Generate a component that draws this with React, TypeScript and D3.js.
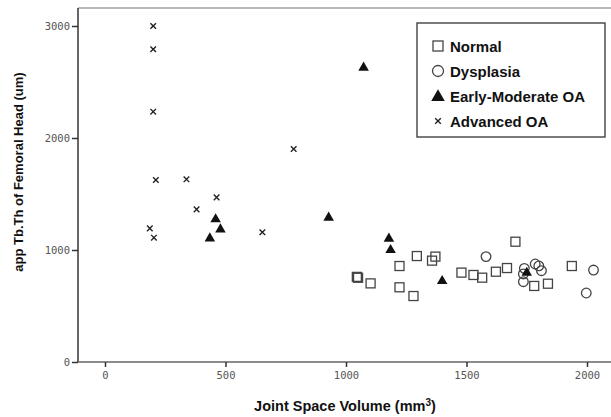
import * as d3 from "d3";
import { useEffect, useRef } from "react";

// Joint space volume (mm3) vs app Tb.Th (um).
const normal: [number, number][] = [
  [1045, 760], [1050, 752], [1102, 702], [1222, 857], [1222, 667],
  [1280, 589], [1294, 946], [1357, 905], [1371, 941], [1479, 798],
  [1529, 777], [1565, 753], [1622, 806], [1668, 839], [1703, 1074],
  [1781, 679], [1838, 699], [1937, 857],
];
const dysplasia: [number, number][] = [
  [1581, 941], [1740, 836], [1736, 786], [1736, 717], [1785, 875],
  [1800, 858], [1811, 815], [2027, 821], [1997, 616],
];
const earlyModerate: [number, number][] = [
  [1073, 2637], [435, 1113], [459, 1283], [479, 1193], [928, 1298],
  [1178, 1110], [1185, 1009], [1399, 732], [1750, 806],
];
const advanced: [number, number][] = [
  [200, 3000], [200, 2792], [200, 2235], [211, 1625], [338, 1631],
  [463, 1470], [783, 1902], [380, 1363], [186, 1193], [203, 1110],
  [653, 1158],
];

const xTicks = [0, 500, 1000, 1500, 2000];
const yTicks = [0, 1000, 2000, 3000];
const legendLabels = ["Normal", "Dysplasia", "Early-Moderate OA", "Advanced OA"];

export default function App() {
  const ref = useRef<SVGSVGElement>(null);

  useEffect(() => {
    const width = 611;
    const svg = d3.select(ref.current);
    svg.selectAll("*").remove();

    const x = d3.scaleLinear().domain([0, 2000]).range([105, 587]);
    const y = d3.scaleLinear().domain([0, 3000]).range([362, 26]);
    const left = 78;
    const top = 8;
    const bottom = y(0);

    // frame: top border, left axis, bottom axis
    svg.append("line")
      .attr("x1", left).attr("x2", width).attr("y1", top).attr("y2", top)
      .attr("stroke", "#777").attr("stroke-width", 1.2);
    svg.append("line")
      .attr("x1", left).attr("x2", left).attr("y1", top).attr("y2", bottom)
      .attr("stroke", "#333").attr("stroke-width", 1.5);
    svg.append("line")
      .attr("x1", left).attr("x2", width).attr("y1", bottom).attr("y2", bottom)
      .attr("stroke", "#666").attr("stroke-width", 1.5);

    const tickFont = "DejaVu Sans Mono, monospace";

    const xAxis = svg.append("g")
      .attr("transform", `translate(0,${bottom})`)
      .call(d3.axisBottom(x).tickValues(xTicks).tickFormat(d3.format("d")).tickSize(5).tickPadding(5));
    xAxis.select(".domain").remove();
    xAxis.selectAll("line").attr("stroke", "#333").attr("stroke-width", 1.5);
    xAxis.selectAll("text")
      .attr("font-family", tickFont).attr("font-size", 10.5).attr("fill", "#555");

    const yAxis = svg.append("g")
      .attr("transform", `translate(${left},0)`)
      .call(d3.axisLeft(y).tickValues(yTicks).tickFormat(d3.format("d")).tickSize(6).tickPadding(2));
    yAxis.select(".domain").remove();
    yAxis.selectAll("line").attr("stroke", "#333").attr("stroke-width", 1.5);
    yAxis.selectAll("text")
      .attr("font-family", tickFont).attr("font-size", 10.5).attr("fill", "#555");

    // axis titles
    const xt = svg.append("text")
      .attr("x", 345).attr("y", 411)
      .attr("text-anchor", "middle")
      .attr("font-family", "Liberation Sans, Arial, sans-serif")
      .attr("font-weight", "bold").attr("font-size", 14.5).attr("fill", "#111");
    xt.append("tspan").text("Joint Space Volume (mm");
    xt.append("tspan").attr("dy", -5).attr("font-size", 10).text("3");
    xt.append("tspan").attr("dy", 5).text(")");

    svg.append("text")
      .attr("transform", `translate(23,172) rotate(-90)`)
      .attr("text-anchor", "middle")
      .attr("font-family", "Liberation Sans, Arial, sans-serif")
      .attr("font-weight", "bold").attr("font-size", 13).attr("fill", "#111")
      .text("app Tb.Th of Femoral Head (um)");

    const tri = d3.symbol().type(d3.symbolTriangle).size(48);

    const drawSquare = (g: any, px: number, py: number, s: number) =>
      g.append("rect")
        .attr("x", px - s / 2).attr("y", py - s / 2)
        .attr("width", s).attr("height", s)
        .attr("fill", "none").attr("stroke", "#444").attr("stroke-width", 1.3);
    const drawCircle = (g: any, px: number, py: number, r: number) =>
      g.append("circle")
        .attr("cx", px).attr("cy", py).attr("r", r)
        .attr("fill", "none").attr("stroke", "#444").attr("stroke-width", 1.3);
    const drawTri = (g: any, px: number, py: number) =>
      g.append("path").attr("d", tri()).attr("transform", `translate(${px},${py + 1})`)
        .attr("fill", "#111");
    const drawCross = (g: any, px: number, py: number) => {
      const h = 2.8;
      g.append("path")
        .attr("d", `M${px - h},${py - h}L${px + h},${py + h}M${px - h},${py + h}L${px + h},${py - h}`)
        .attr("stroke", "#222").attr("stroke-width", 1.4).attr("fill", "none");
    };

    const points = svg.append("g");
    normal.forEach(([a, b]) => drawSquare(points, x(a), y(b), 9));
    dysplasia.forEach(([a, b]) => drawCircle(points, x(a), y(b), 4.8));
    earlyModerate.forEach(([a, b]) => drawTri(points, x(a), y(b)));
    advanced.forEach(([a, b]) => drawCross(points, x(a), y(b)));

    // legend
    const legend = svg.append("g");
    legend.append("rect")
      .attr("x", 417).attr("y", 23).attr("width", 188).attr("height", 114)
      .attr("fill", "#fff").attr("stroke", "#333").attr("stroke-width", 1.3);
    legendLabels.forEach((label, i) => {
      const ly = 46 + i * 25;
      const mx = 438;
      if (i === 0) drawSquare(legend, mx, ly, 10);
      if (i === 1) drawCircle(legend, mx, ly, 5.5);
      if (i === 2) legend.append("path").attr("d", d3.symbol().type(d3.symbolTriangle).size(80)())
        .attr("transform", `translate(${mx},${ly + 1})`).attr("fill", "#111");
      if (i === 3) drawCross(legend, mx, ly);
      legend.append("text")
        .attr("x", 450).attr("y", ly + 5.5)
        .attr("font-family", "Liberation Sans, Arial, sans-serif")
        .attr("font-weight", "bold").attr("font-size", 15).attr("fill", "#111")
        .text(label);
    });
  }, []);

  return (
    <svg
      ref={ref}
      width={611}
      height={417}
      style={{ position: "absolute", left: 0, top: 0, background: "#fff" }}
    />
  );
}
